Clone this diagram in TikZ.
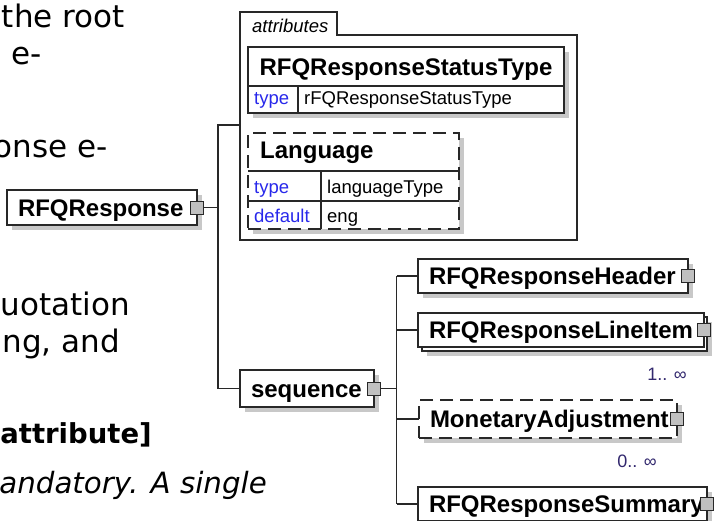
\documentclass[tikz,border=0pt]{standalone}
\usepackage{fontspec}
\setmainfont{Liberation Sans}
\newfontfamily\bodyfont{DejaVu Sans}[BoldFont={DejaVu Sans Bold},ItalicFont={DejaVu Sans Oblique}]
\definecolor{linec}{RGB}{40,40,40}
\definecolor{shadowc}{RGB}{200,200,200}
\definecolor{expc}{RGB}{192,192,192}
\definecolor{keyc}{RGB}{40,40,235}
\definecolor{occc}{RGB}{50,40,110}
\newcommand\elemfont{\fontsize{24}{28}\selectfont\bfseries}
\newcommand\smallfnt{\fontsize{18.5}{22}\selectfont}
\newcommand\occfont{\fontsize{18}{22}\selectfont}
\newcommand\bodyreg{\bodyfont\fontsize{31}{36}\selectfont}
\hyphenpenalty=10000
\exhyphenpenalty=10000
\begin{document}
\begin{tikzpicture}[x=1pt,y=-1pt,
  box/.style={rectangle, draw=linec, line width=1.2pt, fill=white, anchor=north west, inner sep=0pt, outer sep=0pt},
  shadowed/.style={preaction={fill=shadowc, draw=none, transform canvas={shift={(5pt,-5pt)}}}},
  elem/.style={box, font=\elemfont, text height=17pt, text depth=0pt, align=left, inner xsep=11pt},
  optbox/.style={dash pattern=on 13pt off 7pt},
  expander/.style={rectangle, draw=linec, line width=1pt, fill=expc, minimum size=13pt, inner sep=0pt, outer sep=0pt},
  conn/.style={draw=linec, line width=1.2pt},
  keytext/.style={font=\smallfnt, text=keyc, anchor=base west, inner sep=0pt},
  valtext/.style={font=\smallfnt, anchor=base west, inner sep=0pt},
  occ/.style={font=\occfont, text=occc, anchor=base east, inner sep=0pt},
  bodytext/.style={font=\bodyreg, anchor=base east, inner sep=0pt, text=black}]
\useasboundingbox[fill=white] (0,0) rectangle (715,520);

% body text (cut off at the left)
\node[bodytext] (t1) at (125,27) {the root};
\node[bodytext] (t2) at (42,64) {e-};
\node[bodytext] (t3) at (108,157) {onse e-};
\node[bodytext] (t4) at (130,315) {uotation};
\node[bodytext] (t5) at (120,352) {ng, and};
\node[bodytext, font=\bodyfont\fontsize{27.5}{32}\selectfont\bfseries] (t6) at (152,443) {attribute]};
\node[bodytext, font=\bodyfont\fontsize{29.3}{34}\selectfont\itshape] (t7) at (267,493) {andatory. A single};

% attributes container
\draw[conn, fill=white] (240,240) -- (240,12) -- (337,12) -- (337,35) -- (577,35) -- (577,240) -- cycle;
\coordinate (attrW) at (240,125);
\node[font=\smallfnt\itshape, anchor=base west, inner sep=0pt] (attrlbl) at (252,32) {attributes};

% RFQResponseStatusType attribute
\fill[shadowc] (253,52) rectangle (569,118);
\node[box, minimum width=316pt, minimum height=66pt] (stat) at (248,47) {};
\draw[conn] (248,86) -- (564,86) (298,86) -- (298,113);
\node[font=\elemfont, anchor=base, inner sep=0pt] (statname) at (406,75) {RFQResponseStatusType};
\node[keytext] (statk) at (254,104) {type};
\node[valtext] (statv) at (304,104) {rFQResponseStatusType};

% Language attribute (optional)
\fill[shadowc] (253,138) rectangle (464,234);
\node[box, optbox, minimum width=211pt, minimum height=96pt] (lang) at (248,133) {};
\draw[conn] (248,171) -- (459,171) (248,201) -- (459,201) (321,171) -- (321,229);
\node[font=\elemfont, anchor=base west, inner sep=0pt] (langname) at (260,158) {Language};
\node[keytext] (langk1) at (254,193) {type};
\node[valtext] (langv1) at (327,193) {languageType};
\node[keytext] (langk2) at (254,222) {default};
\node[valtext] (langv2) at (327,222) {eng};

% element nodes
\node[elem, shadowed, text width=168pt, minimum height=35pt] (root) at (7,190) {RFQResponse};
\node[elem, shadowed, text width=112pt, minimum height=37pt] (seq) at (240,370) {sequence};
\node[elem, shadowed, text width=248pt, minimum height=34pt] (hdr) at (418,259) {RFQResponseHeader};
\node[box, shadowed, minimum width=285pt, minimum height=34pt] (itemback) at (422,317) {};
\node[elem, text width=264pt, minimum height=34pt] (item) at (418,313) {RFQResponseLineItem};
\node[elem, shadowed, optbox, text width=236pt, minimum height=38pt] (mon) at (419,400) {MonetaryAdjustment};
\node[elem, shadowed, text width=267pt, minimum height=34pt] (sum) at (418,487) {RFQResponseSummary};

\node[occ] (itemocc) at (687,380) {1.. ∞};
\node[occ] (monocc) at (657,467) {0.. ∞};

% expanders
\node[expander] (rootx) at (root.east) {};
\node[expander] (seqx) at (seq.east) {};
\node[expander] (hdrx) at (hdr.east) {};
\node[expander] (itemx) at (item.east) {};
\node[expander] (monx) at (mon.east) {};
\node[expander] (sumx) at (sum.east) {};

% connectors
\coordinate (trunk) at (218,125);
\draw[conn] (attrW) -- (trunk) |- (seq.west);
\draw[conn] (rootx.east) -- (rootx.east -| trunk);
\draw[conn] (seqx.east) -- ++(16,0) coordinate (br);
\draw[conn] (br |- hdr.west) -- (br |- sum.west);
\foreach \n in {hdr,item,mon,sum} \draw[conn] (br |- \n.west) -- (\n.west);
\end{tikzpicture}
\end{document}
